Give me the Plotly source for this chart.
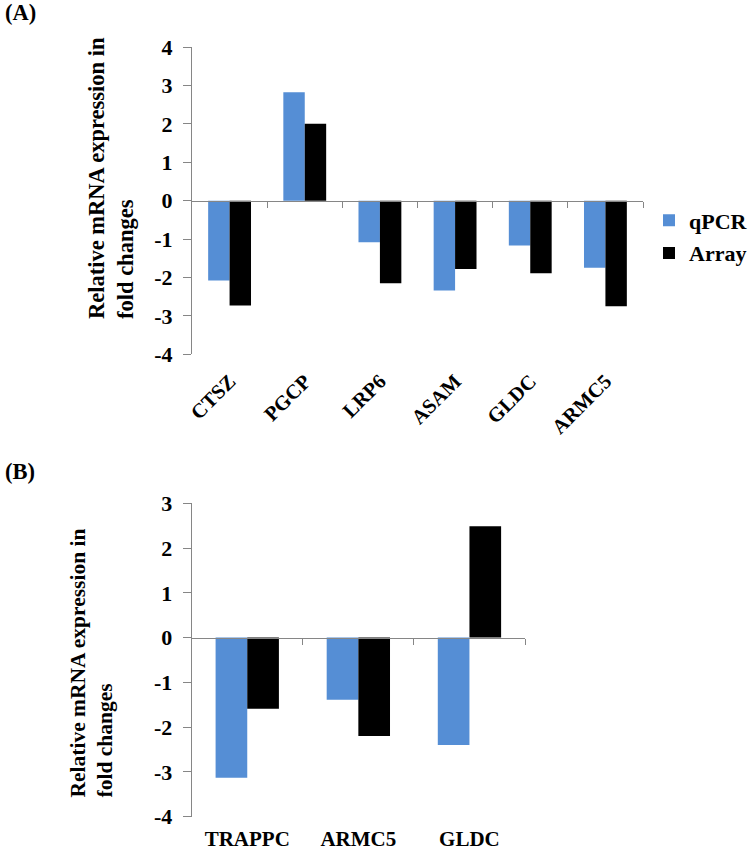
import plotly.graph_objects as go

# ---- data ----
genes_a = ["CTSZ", "PGCP", "LRP6", "ASAM", "GLDC", "ARMC5"]
qpcr_a = [-2.08, 2.82, -1.08, -2.34, -1.17, -1.75]
array_a = [-2.73, 2.00, -2.15, -1.78, -1.89, -2.75]
yticks_a = [-4, -3, -2, -1, 0, 1, 2, 3, 4]

genes_b = ["TRAPPC", "ARMC5", "GLDC"]
qpcr_b = [-3.13, -1.39, -2.40]
array_b = [-1.59, -2.20, 2.49]
yticks_b = [-4, -3, -2, -1, 0, 1, 2, 3]

series_names = ["qPCR", "Array"]

# ---- style ----
W, H = 755, 851
BLUE = "#558ED5"
BLACK = "#000000"
GREY = "#868686"
FONT = "Liberation Serif"

def px_x(p):
    return p / W

def px_y(p):
    return 1 - p / H

domA_x = [px_x(192), px_x(643)]
domA_y = [px_y(354.3), px_y(47)]
domB_x = [px_x(191.7), px_x(525)]
domB_y = [px_y(816.7), px_y(503.3)]

rangeA = [-4, 4]
rangeB = [-4, 3]

def zero_pos(dom, rng):
    return dom[0] + (0 - rng[0]) / (rng[1] - rng[0]) * (dom[1] - dom[0])

fig = go.Figure()

fig.add_trace(go.Bar(x=genes_a, y=qpcr_a, name=series_names[0], marker=dict(color=BLUE, line=dict(width=0)),
                     xaxis="x", yaxis="y", legendgroup="q", hoverinfo="skip"))
fig.add_trace(go.Bar(x=genes_a, y=array_a, name=series_names[1], marker=dict(color=BLACK, line=dict(width=0)),
                     xaxis="x", yaxis="y", legendgroup="a", hoverinfo="skip"))
fig.add_trace(go.Bar(x=genes_b, y=qpcr_b, name=series_names[0], marker=dict(color=BLUE, line=dict(width=0)),
                     xaxis="x2", yaxis="y2", showlegend=False, hoverinfo="skip"))
fig.add_trace(go.Bar(x=genes_b, y=array_b, name=series_names[1], marker=dict(color=BLACK, line=dict(width=0)),
                     xaxis="x2", yaxis="y2", showlegend=False, hoverinfo="skip"))
# empty helper traces so the zero-line category-boundary axes get drawn
fig.add_trace(go.Scatter(x=[], y=[], xaxis="x3", yaxis="y", showlegend=False, hoverinfo="skip"))
fig.add_trace(go.Scatter(x=[], y=[], xaxis="x4", yaxis="y2", showlegend=False, hoverinfo="skip"))

tickfont = dict(family=FONT, size=22, color="black", weight="bold")

def yaxis(dom, rng, vals, anchor):
    return dict(domain=dom, range=rng, tickvals=vals, ticktext=[str(v) for v in vals],
                anchor=anchor, showgrid=False, zeroline=False,
                showline=True, linecolor=GREY, linewidth=1, ticks="outside", ticklen=8,
                tickcolor=GREY, tickwidth=1, tickfont=tickfont, ticklabelstandoff=6,
                automargin=False, fixedrange=True)

def cat_axis(dom, anchor, n, angle, standoff, size):
    return dict(domain=dom, anchor=anchor, type="category", range=[-0.5, n - 0.5],
                showline=False, showgrid=False, zeroline=False, ticks="",
                tickfont=dict(tickfont, size=size), tickangle=angle, ticklabelstandoff=standoff,
                automargin=False, fixedrange=True)

def zero_axis(dom, overlay, n, pos):
    return dict(domain=dom, overlaying=overlay, anchor="free", position=pos, side="bottom",
                type="linear", range=[-0.5, n - 0.5],
                tickvals=[i + 0.5 for i in range(n)], showticklabels=False,
                showline=True, linecolor=GREY, linewidth=1, ticks="outside", ticklen=6,
                tickcolor=GREY, tickwidth=1, showgrid=False, zeroline=False,
                automargin=False, fixedrange=True)

fig.update_layout(
    width=W, height=H, autosize=False, template="none",
    margin=dict(l=0, r=0, t=0, b=0),
    paper_bgcolor="white", plot_bgcolor="rgba(0,0,0,0)",
    barmode="group", bargap=0.43, bargroupgap=0,
    xaxis=cat_axis(domA_x, "y", len(genes_a), -45, 10, 20.5),
    yaxis=yaxis(domA_y, rangeA, yticks_a, "x"),
    xaxis2=cat_axis(domB_x, "y2", len(genes_b), 0, 7, 21),
    yaxis2=yaxis(domB_y, rangeB, yticks_b, "x2"),
    xaxis3=zero_axis(domA_x, "x", len(genes_a), zero_pos(domA_y, rangeA)),
    xaxis4=zero_axis(domB_x, "x2", len(genes_b), zero_pos(domB_y, rangeB)),
    showlegend=True,
    legend=dict(x=px_x(649), y=px_y(237), xanchor="left", yanchor="middle",
                font=dict(family=FONT, size=22, color="black", weight="bold"),
                traceorder="grouped", tracegroupgap=1, bgcolor="rgba(0,0,0,0)",
                itemclick=False, itemdoubleclick=False),
    font=dict(family=FONT, color="black"),
    hovermode=False,
)

ann_font_a = dict(family=FONT, size=22.5, color="black", weight="bold")
ann_font_b = dict(family=FONT, size=21.5, color="black", weight="bold")
fig.add_annotation(text="Relative mRNA expression in<br>fold changes", xref="paper", yref="paper",
                   x=px_x(111), y=px_y(321), xanchor="center", yanchor="bottom",
                   textangle=-90, align="left", showarrow=False, font=ann_font_a)
fig.add_annotation(text="Relative mRNA expression in<br>fold changes", xref="paper", yref="paper",
                   x=px_x(91), y=px_y(800), xanchor="center", yanchor="bottom",
                   textangle=-90, align="left", showarrow=False, font=ann_font_b)
fig.add_annotation(text="(A)", xref="paper", yref="paper", x=px_x(3), y=px_y(-2),
                   xanchor="left", yanchor="top", showarrow=False, font=ann_font_a)
fig.add_annotation(text="(B)", xref="paper", yref="paper", x=px_x(3), y=px_y(457),
                   xanchor="left", yanchor="top", showarrow=False, font=ann_font_a)

fig.write_html("out.html", config={"displayModeBar": False},
               post_script="document.body.style.margin='0';document.body.style.padding='0';")
